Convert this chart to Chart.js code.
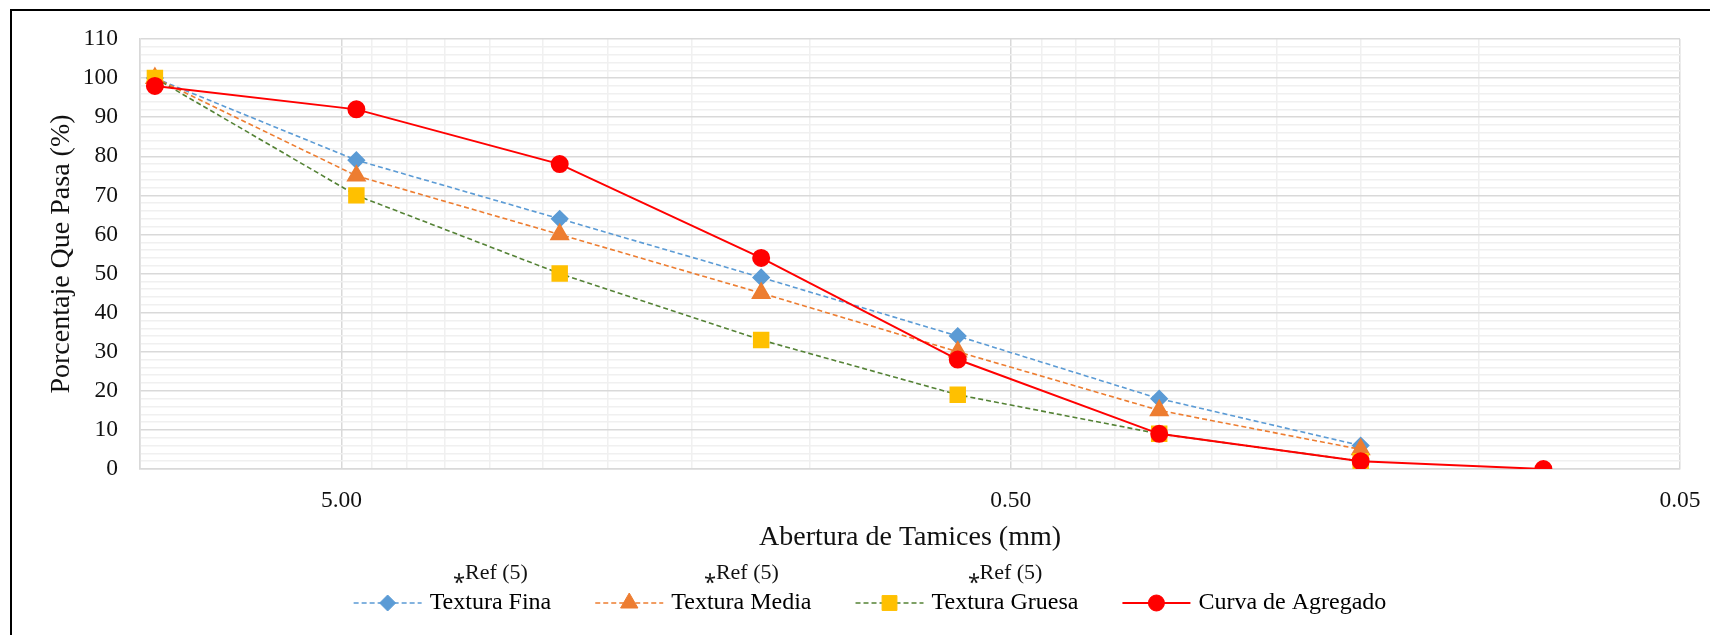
<!DOCTYPE html>
<html>
<head>
<meta charset="utf-8">
<script src="https://cdn.jsdelivr.net/npm/chart.js@4.4.0/dist/chart.umd.min.js"></script>
<style>
  html, body { margin: 0; padding: 0; background: #fff; }
  #wrap { position: relative; width: 1710px; height: 635px; overflow: hidden; }
  #frame { position: absolute; left: 10px; top: 9px; width: 1730px; height: 660px; border: 2px solid #000; box-sizing: border-box; }
  canvas { position: absolute; left: 0; top: 0; }
</style>
</head>
<body>
<div id="wrap">
  <div id="frame"></div>
  <canvas id="curvaGranulometrica" width="1710" height="635"></canvas>
</div>
<script>
// abertura de tamices (mm)
const abertura = [9.5, 4.75, 2.36, 1.18, 0.6, 0.3, 0.15];
const aberturaAgregado = [9.5, 4.75, 2.36, 1.18, 0.6, 0.3, 0.15, 0.08];

// porcentaje que pasa (%)
const texturaFina = [100, 79, 64, 49, 34, 18, 6];
const texturaMedia = [100, 75, 60, 45, 30, 15, 5];
const texturaGruesa = [100, 70, 50, 33, 19, 9, 2];
const curvaAgregado = [98, 92, 78, 54, 28, 9, 2, 0];

const nombres = ['Textura Fina', 'Textura Media', 'Textura Gruesa', 'Curva de Agregado'];
const notasRef = ['\u204ERef (5)', '\u204ERef (5)', '\u204ERef (5)', ''];

// ticks del eje x (escala log, invertida)
const xMayores = [10, 5, 0.5, 0.05];
const xMenores = [4.5, 4, 3.5, 3, 2.5, 2, 1.5, 1, 0.45, 0.4, 0.35, 0.3, 0.25, 0.2, 0.15, 0.1];
const xEtiquetas = [5, 0.5, 0.05];

const serif = '"Liberation Serif", "Times New Roman", serif';
const legendFont = 24;
const legendBox = 104;
const sampleGap = 40;

function puntos(xs, ys) {
    return xs.map((x, i) => ({ x: x, y: ys[i] }));
}

// draws the line + marker samples and the Ref notes in the legend
const legendSamples = {
    id: 'legendSamples',
    afterDraw(chart) {
        const legend = chart.legend;
        const ctx = chart.ctx;
        legend.legendItems.forEach((item, i) => {
            const box = legend.legendHitBoxes[i];
            const ds = chart.data.datasets[item.datasetIndex];
            const cy = box.top + box.height / 2;
            const x0 = box.left + sampleGap;
            const x1 = box.left + legendBox + 4;
            ctx.save();
            ctx.strokeStyle = ds.borderColor;
            ctx.lineWidth = ds.borderWidth;
            ctx.setLineDash(ds.borderDash || []);
            ctx.beginPath();
            ctx.moveTo(x0, cy);
            ctx.lineTo(x1, cy);
            ctx.stroke();
            ctx.setLineDash([]);
            ctx.fillStyle = ds.pointBackgroundColor;
            ctx.strokeStyle = ds.pointBorderColor;
            ctx.lineWidth = 1;
            Chart.helpers.drawPoint(ctx, {
                pointStyle: ds.pointStyle, radius: ds.pointRadius, rotation: 0, borderWidth: 1
            }, (x0 + x1) / 2, cy);

            const nota = notasRef[item.datasetIndex];
            if (nota) {
                ctx.font = legendFont + 'px ' + serif;
                const textW = ctx.measureText(item.text).width;
                const textX = box.left + legendBox + legendFont / 2;
                ctx.font = '22px ' + serif;
                ctx.fillStyle = '#111';
                ctx.textAlign = 'center';
                ctx.textBaseline = 'middle';
                ctx.fillText(nota, textX + textW / 2, cy - 30);
            }
            ctx.restore();
        });
    }
};

function renderCurvaGranulometrica() {
    const ctx = document.getElementById('curvaGranulometrica').getContext('2d');
    new Chart(ctx, {
        type: 'line',
        data: {
            datasets: [{
                label: nombres[0],
                data: puntos(abertura, texturaFina),
                borderColor: '#5B9BD5',
                borderWidth: 1.6,
                borderDash: [5, 3],
                pointStyle: 'rectRot',
                pointRadius: 8,
                pointBackgroundColor: '#5B9BD5',
                pointBorderColor: '#5B9BD5',
                order: 3
            }, {
                label: nombres[1],
                data: puntos(abertura, texturaMedia),
                borderColor: '#ED7D31',
                borderWidth: 1.6,
                borderDash: [5, 3],
                pointStyle: 'triangle',
                pointRadius: 10,
                pointBackgroundColor: '#ED7D31',
                pointBorderColor: '#ED7D31',
                order: 2
            }, {
                label: nombres[2],
                data: puntos(abertura, texturaGruesa),
                borderColor: '#548235',
                borderWidth: 1.6,
                borderDash: [5, 3],
                pointStyle: 'rect',
                pointRadius: 10.5,
                pointBackgroundColor: '#FFC000',
                pointBorderColor: '#FFC000',
                order: 1
            }, {
                label: nombres[3],
                data: puntos(aberturaAgregado, curvaAgregado),
                borderColor: '#FF0000',
                borderWidth: 2,
                pointStyle: 'circle',
                pointRadius: 8,
                pointBackgroundColor: '#FF0000',
                pointBorderColor: '#FF0000',
                order: 0
            }]
        },
        options: {
            responsive: false,
            animation: false,
            layout: { padding: { top: 39, right: 30, bottom: 10, left: 20 } },
            elements: { line: { tension: 0, fill: false } },
            scales: {
                x: {
                    type: 'logarithmic',
                    reverse: true,
                    min: 0.05,
                    max: 10,
                    afterBuildTicks: (scale) => {
                        scale.ticks = xMayores.concat(xMenores).map(v => ({ value: v }));
                    },
                    afterFit: (scale) => { scale.height = 118; },
                    ticks: {
                        autoSkip: false,
                        maxRotation: 0,
                        padding: 18,
                        color: '#111',
                        font: { family: serif, size: 23.5 },
                        callback: (value) => xEtiquetas.includes(value) ? value.toFixed(2) : ''
                    },
                    grid: {
                        drawTicks: false,
                        lineWidth: 1.5,
                        color: (c) => (c.tick && xMayores.includes(c.tick.value)) ? '#D9D9D9' : '#F0F0F0'
                    },
                    border: { color: '#D9D9D9', width: 1.5 },
                    title: {
                        display: true,
                        text: 'Abertura de Tamices (mm)',
                        color: '#111',
                        font: { family: serif, size: 28 },
                        padding: { top: 0, bottom: 33 }
                    }
                },
                y: {
                    min: 0,
                    max: 110,
                    afterFit: (scale) => { scale.width = 120; },
                    ticks: {
                        stepSize: 2,
                        autoSkip: false,
                        padding: 22,
                        color: '#111',
                        font: { family: serif, size: 23.5 },
                        callback: (value) => value % 10 === 0 ? value : ''
                    },
                    grid: {
                        drawTicks: false,
                        lineWidth: 1.5,
                        color: (c) => (c.tick && c.tick.value % 10 === 0) ? '#D9D9D9' : '#F0F0F0'
                    },
                    border: { color: '#D9D9D9', width: 1.5 },
                    title: {
                        display: true,
                        text: 'Porcentaje Que Pasa (%)',
                        color: '#111',
                        font: { family: serif, size: 28 },
                        padding: { top: 25, bottom: 0 }
                    }
                }
            },
            plugins: {
                tooltip: { enabled: false },
                legend: {
                    position: 'bottom',
                    labels: {
                        boxWidth: legendBox,
                        boxHeight: 20,
                        padding: 4,
                        color: '#111',
                        font: { family: serif, size: legendFont },
                        generateLabels: (chart) => chart.data.datasets.map((ds, i) => ({
                            text: ds.label,
                            datasetIndex: i,
                            fillStyle: 'rgba(0,0,0,0)',
                            strokeStyle: 'rgba(0,0,0,0)',
                            lineWidth: 0,
                            hidden: false
                        }))
                    }
                }
            }
        },
        plugins: [legendSamples]
    });
}

renderCurvaGranulometrica();
</script>
</body>
</html>
